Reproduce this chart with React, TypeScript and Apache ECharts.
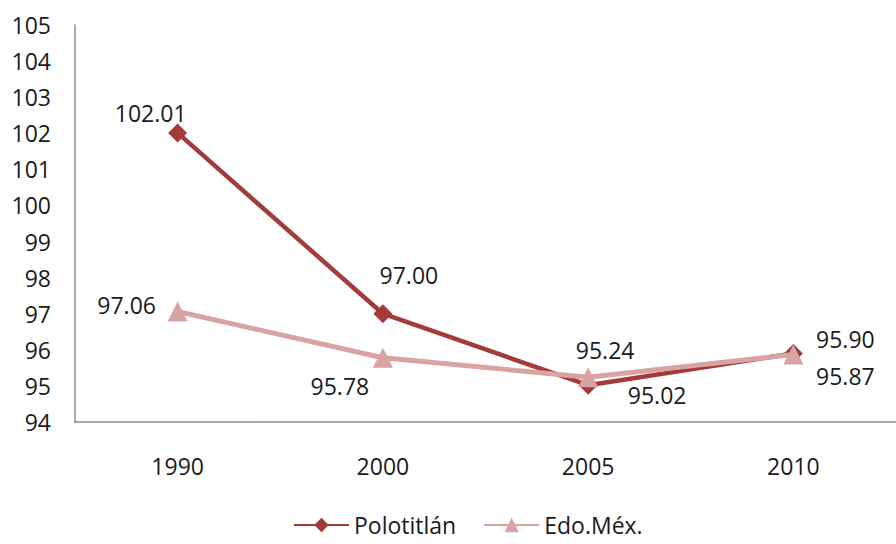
import React, { useEffect, useRef } from "react";
import * as echarts from "echarts";

const categories = ["1990", "2000", "2005", "2010"];
const polotitlan = [102.01, 97.0, 95.02, 95.9];
const edoMex = [97.06, 95.78, 95.24, 95.87];
const seriesNames = ["Polotitlán", "Edo.Méx."];

// label offsets (pixels) relative to each point
const polOffsets = [
  [-27, -20],
  [26, -39],
  [69, 10],
  [52, -14],
];
const edoOffsets = [
  [-51, -7],
  [-43, 28],
  [17, -27],
  [52, 21],
];

const FONT = "Open Sans";
const FS = 23;

export default function App() {
  const ref = useRef<HTMLDivElement>(null);
  useEffect(() => {
    if (!ref.current) return;
    const chart = echarts.init(ref.current, undefined, { renderer: "svg" });
    const mk = (vals: number[], offs: number[][]) =>
      vals.map((v, i) => ({ value: v, label: { offset: offs[i] } }));
    const labelCfg = {
      show: true,
      position: "inside",
      color: "#1a1a1a",
      fontFamily: FONT,
      fontSize: FS,
      formatter: (p: any) => Number(p.value).toFixed(2),
    };
    chart.setOption({
      animation: false,
      textStyle: { fontFamily: FONT },
      grid: { left: 75, top: 25, width: 837, height: 397 },
      legend: {
        left: 288,
        top: 507,
        itemWidth: 55,
        itemHeight: 18,
        itemGap: 27,
        textStyle: { fontFamily: FONT, fontSize: FS, color: "#1a1a1a", lineHeight: 26 },
        data: seriesNames,
      },
      xAxis: {
        type: "category",
        data: categories,
        boundaryGap: true,
        axisLine: { lineStyle: { color: "#8c8c8c", width: 1.5 } },
        axisTick: { show: false },
        axisLabel: { fontFamily: FONT, fontSize: FS, color: "#1a1a1a", margin: 32 },
      },
      yAxis: {
        type: "value",
        min: 94,
        max: 105,
        interval: 1,
        axisLine: { show: true, lineStyle: { color: "#8c8c8c", width: 1.5 } },
        axisTick: { show: false },
        splitLine: { show: false },
        axisLabel: { fontFamily: FONT, fontSize: FS, color: "#1a1a1a", margin: 24 },
      },
      series: [
        {
          name: seriesNames[0],
          type: "line",
          data: mk(polotitlan, polOffsets),
          symbol: "diamond",
          symbolSize: 19,
          showAllSymbol: true,
          lineStyle: { color: "#A33B3B", width: 4.5 },
          itemStyle: { color: "#A33B3B" },
          label: labelCfg,
          z: 2,
        },
        {
          name: seriesNames[1],
          type: "line",
          data: mk(edoMex, edoOffsets),
          symbol: "triangle",
          symbolSize: 20,
          showAllSymbol: true,
          lineStyle: { color: "#D9A3A3", width: 5 },
          itemStyle: { color: "#D9A3A3" },
          label: labelCfg,
          z: 3,
        },
      ],
    });
    return () => chart.dispose();
  }, []);
  return (
    <div
      ref={ref}
      style={{ position: "absolute", left: 0, top: 0, width: 896, height: 544 }}
    />
  );
}
